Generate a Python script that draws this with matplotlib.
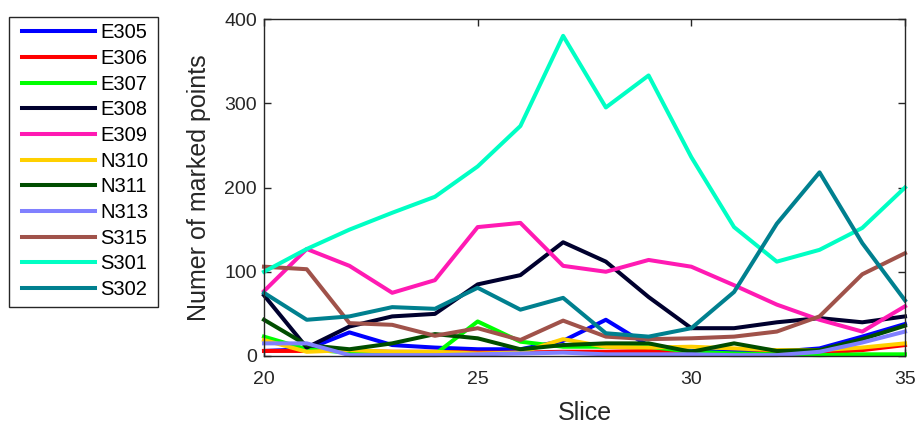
import matplotlib
matplotlib.use("Agg")
import matplotlib.pyplot as plt
from matplotlib.patches import Rectangle

plt.rcParams['font.family'] = ['Liberation Sans', 'DejaVu Sans']

slices = list(range(20, 36))

E305 = [6, 8, 28, 13, 10, 8, 8, 18, 43, 12, 6, 5, 5, 9, 23, 38]
E306 = [6, 6, 6, 5, 5, 4, 4, 5, 5, 6, 4, 2, 4, 4, 7, 13]
E307 = [23, 8, 4, 3, 2, 41, 17, 11, 11, 11, 5, 3, 2, 1, 2, 2]
E308 = [72, 10, 35, 47, 50, 85, 96, 135, 112, 70, 33, 33, 40, 45, 40, 47]
E309 = [77, 127, 107, 75, 90, 153, 158, 107, 100, 114, 106, 84, 61, 43, 29, 59]
N310 = [19, 5, 7, 5, 5, 3, 4, 20, 11, 10, 11, 9, 7, 7, 10, 15]
N311 = [43, 13, 8, 15, 26, 21, 8, 13, 15, 15, 5, 15, 6, 7, 20, 36]
N313 = [15, 15, 1, 1, 1, 2, 3, 4, 2, 2, 2, 1, 1, 5, 16, 29]
S315 = [106, 103, 39, 37, 24, 33, 19, 42, 23, 20, 21, 23, 29, 47, 97, 122]
S301 = [100, 127, 150, 170, 189, 225, 273, 380, 295, 333, 236, 153, 112, 126, 152, 200]
S302 = [75, 43, 47, 58, 56, 81, 55, 69, 27, 23, 33, 76, 157, 218, 134, 66]

series = [
    ("E305", E305, "#0000FF"),
    ("E306", E306, "#FF0000"),
    ("E307", E307, "#00FF00"),
    ("E308", E308, "#00002E"),
    ("E309", E309, "#FF1AB3"),
    ("N310", N310, "#FFD000"),
    ("N311", N311, "#004D00"),
    ("N313", N313, "#8080FF"),
    ("S315", S315, "#A0524A"),
    ("S301", S301, "#00FFC4"),
    ("S302", S302, "#00808F"),
]

W, H = 919, 426
fig = plt.figure(figsize=(W / 100, H / 100), dpi=100)
ax = fig.add_axes([264 / W, 1 - 356 / H, (905 - 264) / W, (356 - 19) / H])

for name, vals, color in series:
    ax.plot(slices, vals, color=color, lw=2.9, label=name, clip_on=False)

ax.set_xlim(20, 35)
ax.set_ylim(0, 400)
ax.set_xticks([20, 25, 30, 35])
ax.set_yticks([0, 100, 200, 300, 400])

axc = '#262626'
for sp in ax.spines.values():
    sp.set_color(axc)
    sp.set_linewidth(1.0)
ax.tick_params(direction='in', length=5, width=1.0, colors=axc, labelsize=14,
               top=True, right=True)
ax.tick_params(axis='x', pad=11)
ax.tick_params(axis='y', pad=5)
ax.set_xlabel("Slice", fontsize=18, color=axc, labelpad=9.5)
ax.set_ylabel("Numer of marked points", fontsize=18, color=axc, labelpad=9.5)

# legend entries placed inside a separately drawn frame
handles, labels = ax.get_legend_handles_labels()
leg = fig.legend(handles, labels, loc='upper left',
                 bbox_to_anchor=(22 / W, 1 - 23.5 / H),
                 borderaxespad=0, borderpad=0, fontsize=14.5,
                 handlelength=3.6, handletextpad=0.3, labelspacing=0.33,
                 frameon=False)
for t in leg.get_texts():
    t.set_color('black')
fig.patches.append(Rectangle((9 / W, 1 - 307 / H), (158 - 9) / W, (307 - 17) / H,
                             transform=fig.transFigure, facecolor='white',
                             edgecolor=axc, linewidth=1.0, zorder=0))

fig.savefig("out.png", dpi=100, facecolor='white')
